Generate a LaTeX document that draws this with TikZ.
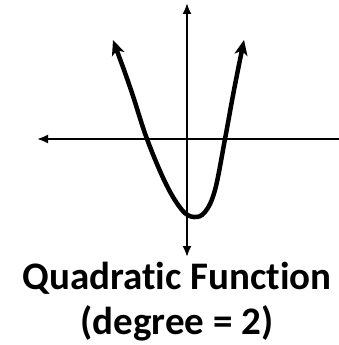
\documentclass[tikz,border=0pt]{standalone}
\usepackage{fontspec}
\setmainfont[Ligatures=NoCommon]{Carlito}
\usetikzlibrary{arrows.meta,positioning}

\begin{document}
\begin{tikzpicture}[x=1pt, y=-1pt,
  axis/.style={line width=2pt, -{Latex[length=11pt,width=9pt]}},
  curve/.style={line width=4.5pt, {Stealth[length=15pt,width=13pt,inset=4pt]}-{Stealth[length=15pt,width=13pt,inset=4pt]}},
  label/.style={font=\bfseries\fontsize{39}{45}\selectfont, inner sep=0pt, anchor=base}]
\useasboundingbox (0,0) rectangle (339,345);
\coordinate (o) at (187,139);
\coordinate (top) at (187,3);
\coordinate (bottom) at (187,257);
\coordinate (left) at (37,139);
\coordinate (right) at (339,139);
% axes
\draw[axis] (o) -- (top);
\draw[axis] (o) -- (bottom);
\draw[axis] (o) -- (left);
\draw[line width=2pt] (o) -- (right);
% parabola
\draw[curve] plot[smooth, tension=0.6] coordinates
  {(113,40) (131,90) (147,139) (166,184) (182,210) (194,217) (205,212) (215,190) (225,139) (234,90) (244,40)};
\node[label] (title) at (177,289) {Quadratic Function};
\node[label] (degree) at (177,334) {(degree = 2)};
\end{tikzpicture}
\end{document}
